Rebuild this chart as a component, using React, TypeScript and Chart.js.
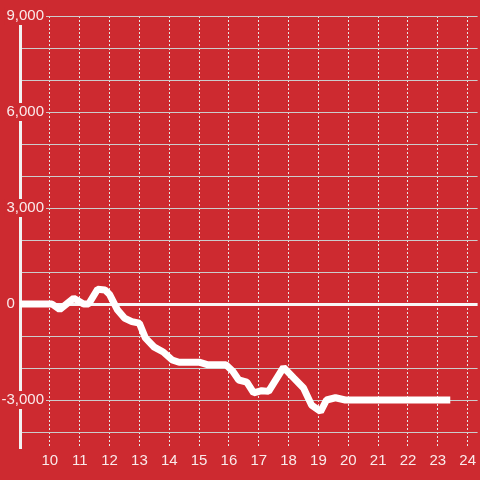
import React, { useEffect, useRef } from "react";
import { Chart, registerables } from "chart.js";

Chart.register(...registerables);

// time of day (hours) and running value
const hours = [
  9.0, 10.07, 10.33, 10.8, 11.13, 11.3, 11.6, 11.85, 12.0, 12.27, 12.5, 12.75,
  13.0, 13.2, 13.5, 13.8, 14.1, 14.33, 15.0, 15.3, 15.9, 16.13, 16.33, 16.6,
  16.83, 17.1, 17.33, 17.83, 18.17, 18.5, 18.77, 19.07, 19.27, 19.57, 19.9, 23.3,
];
const values = [
  0, 0, -170, 180, 0, 0, 460, 440, 300, -190, -440, -550,
  -600, -1060, -1350, -1500, -1750, -1820, -1820, -1900, -1900, -2100, -2375, -2440,
  -2780, -2710, -2730, -1980, -2310, -2625, -3160, -3360, -3000, -2930, -3000, -3000,
];

const xTicks = [10, 11, 12, 13, 14, 15, 16, 17, 18, 19, 20, 21, 22, 23, 24];
const yTicks = [-4000, -3000, -2000, -1000, 0, 1000, 2000, 3000, 4000, 5000, 6000, 7000, 8000, 9000];
const yLabelled = [-3000, 0, 3000, 6000, 9000];

const BG = "#cd2a30";
const FONT = { family: "'Liberation Sans', Arial, sans-serif", size: 15 };

export default function App() {
  const ref = useRef<HTMLCanvasElement>(null);

  useEffect(() => {
    const chart = new Chart(ref.current!, {
      type: "line",
      data: {
        datasets: [
          {
            data: hours.map((h, i) => ({ x: h, y: values[i] })),
            borderColor: "#ffffff",
            borderWidth: 7,
            pointRadius: 0,
            tension: 0,
            fill: false,
            borderJoinStyle: "bevel",
            borderCapStyle: "square",
          },
        ],
      },
      options: {
        animation: false,
        responsive: true,
        maintainAspectRatio: false,
        layout: { padding: { top: 16, left: 0, right: 0, bottom: 0 } },
        plugins: { legend: { display: false }, tooltip: { enabled: false } },
        scales: {
          x: {
            type: "linear",
            min: 9,
            max: 9 + 460 / 30,
            afterBuildTicks: (s: any) => {
              s.ticks = xTicks.map((v) => ({ value: v }));
            },
            afterFit: (s: any) => {
              s.height = 32;
            },
            border: { display: false, dash: [2, 2] },
            grid: { color: "#e6e6e6", lineWidth: 1, drawTicks: false },
            ticks: {
              color: "rgba(255,255,255,0.9)",
              font: FONT,
              padding: 4,
              maxRotation: 0,
              autoSkip: false,
              callback: (v: any) => String(v),
            },
          },
          y: {
            type: "linear",
            min: -4500,
            max: 9000,
            afterBuildTicks: (s: any) => {
              s.ticks = yTicks.map((v) => ({ value: v }));
            },
            afterFit: (s: any) => {
              s.width = 20;
            },
            border: { display: true, color: "#f2f2f2", width: 3 },
            grid: {
              drawTicks: false,
              color: (ctx: any) => (ctx.tick && ctx.tick.value === 0 ? "#f7f7f7" : "#cccccc"),
              lineWidth: (ctx: any) => (ctx.tick && ctx.tick.value === 0 ? 3 : 1),
            },
            ticks: {
              color: "rgba(255,255,255,0.9)",
              font: FONT,
              mirror: true,
              crossAlign: "far",
              padding: -18.5,
              autoSkip: false,
              showLabelBackdrop: (ctx: any) =>
                !!ctx.tick && ctx.tick.value !== 0 && yLabelled.includes(ctx.tick.value),
              backdropColor: BG,
              backdropPadding: { top: 0, bottom: 0, left: 2, right: 2 },
              callback: (v: any) => {
                const n = Number(v);
                if (!yLabelled.includes(n)) return "";
                return n === 0 ? "0       " : n.toLocaleString("en-US");
              },
            },
          },
        },
      },
    } as any);
    return () => chart.destroy();
  }, []);

  return (
    <div
      style={{
        position: "fixed",
        left: 0,
        top: 0,
        width: 480,
        height: 480,
        background: BG,
      }}
    >
      <canvas ref={ref} />
    </div>
  );
}
